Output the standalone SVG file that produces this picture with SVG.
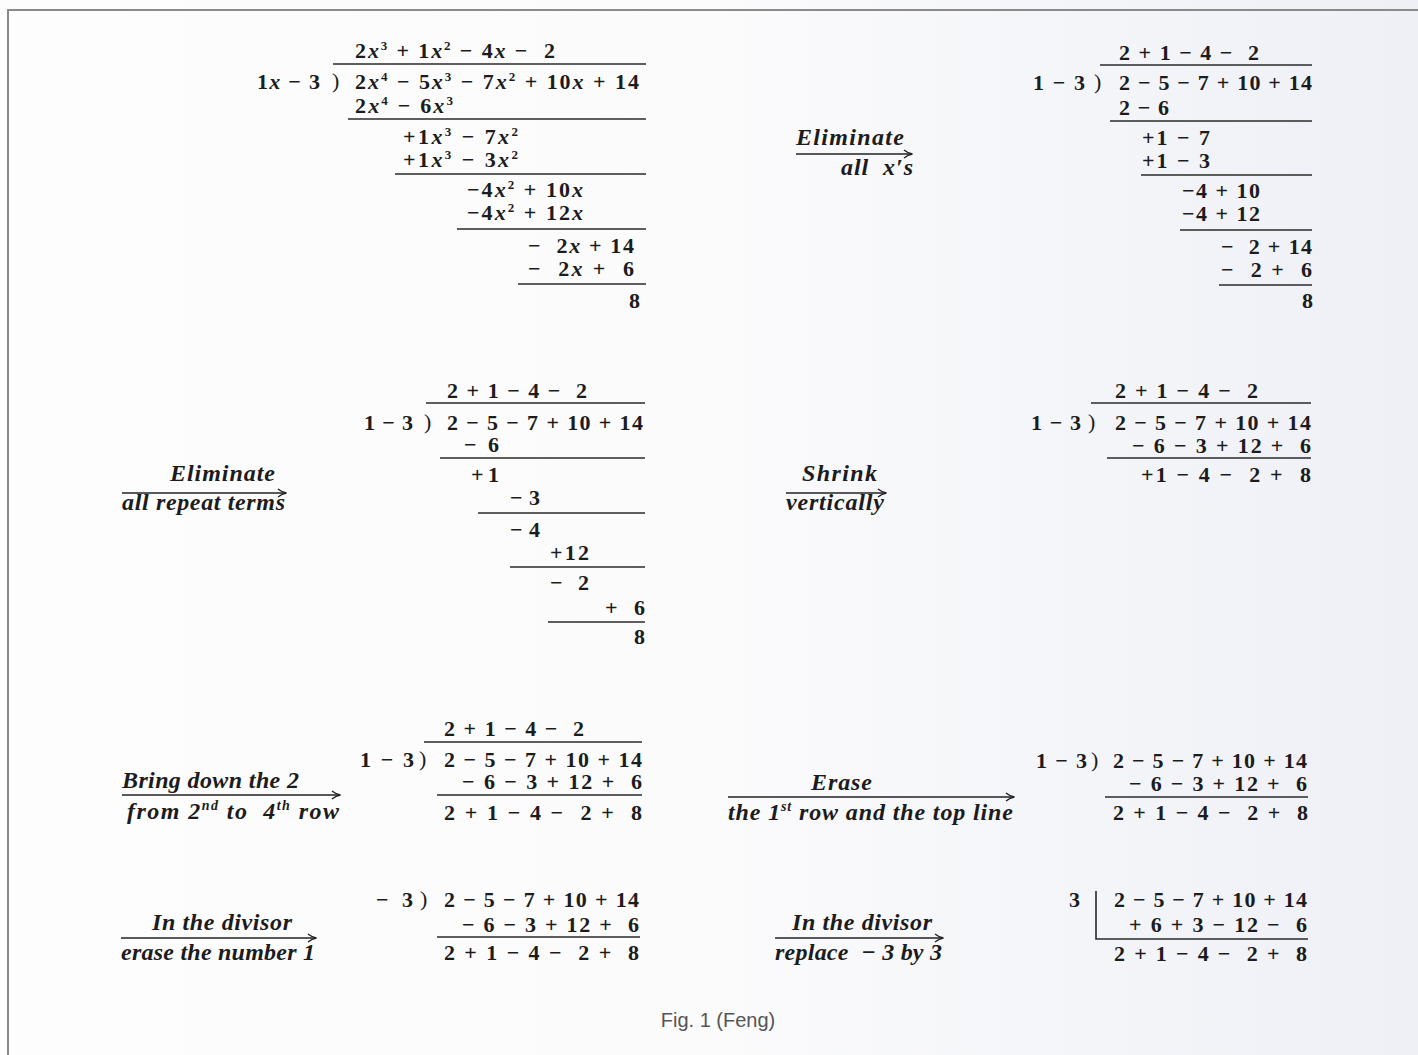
<svg xmlns="http://www.w3.org/2000/svg" width="1418" height="1055" viewBox="0 0 1418 1055" xml:space="preserve">
<defs>
<linearGradient id="bg" x1="0" y1="0" x2="1" y2="0">
<stop offset="0" stop-color="#fdfdfd"/>
<stop offset="0.5" stop-color="#fbfbfc"/>
<stop offset="1" stop-color="#eef0f6"/>
</linearGradient>
<marker id="arr" viewBox="0 0 12 12" refX="10" refY="6" markerWidth="12" markerHeight="12" markerUnits="userSpaceOnUse" orient="auto">
<path d="M2,2 Q6,5.3 10.5,6 Q6,6.7 2,10" fill="none" stroke="#222" stroke-width="1.4"/>
</marker>
<style>
.m{font-family:"Liberation Serif","Times New Roman",serif;font-size:22px;font-weight:bold;fill:#1c1c1c;white-space:pre}
.v{font-style:italic}
.s{font-size:13px}
.lb{font-family:"Liberation Serif","Times New Roman",serif;font-style:italic;font-weight:bold;font-size:24px;fill:#1c1c1c;white-space:pre}
.ls{font-size:14px}
.p{font-family:"Liberation Serif","Times New Roman",serif;font-size:22px;fill:#1c1c1c}
.r{stroke:#2a2a2a;stroke-width:1.6;fill:none}
.ar{stroke:#222;stroke-width:1.4;fill:none;marker-end:url(#arr)}
.cap{font-family:"Liberation Sans",Arial,sans-serif;font-size:20px;fill:#555}
</style>
</defs>
<rect width="1418" height="1055" fill="url(#bg)"/>
<path d="M8,1055 V10 H1418" fill="none" stroke="#8a8a8a" stroke-width="2"/>

<g id="step1">
<text class="m" x="355" y="58" textLength="200">2<tspan class="v">x</tspan><tspan class="s" dy="-8">3</tspan><tspan dy="8"> + 1</tspan><tspan class="v">x</tspan><tspan class="s" dy="-8">2</tspan><tspan dy="8"> − 4</tspan><tspan class="v">x</tspan> −  2</text>
<line class="r" x1="333" y1="64" x2="646" y2="64"/>
<text class="m" x="257" y="89" textLength="63">1<tspan class="v">x</tspan> − 3</text>
<text class="p" x="332" y="88">)</text>
<text class="m" x="355" y="89" textLength="284">2<tspan class="v">x</tspan><tspan class="s" dy="-8">4</tspan><tspan dy="8"> − 5</tspan><tspan class="v">x</tspan><tspan class="s" dy="-8">3</tspan><tspan dy="8"> − 7</tspan><tspan class="v">x</tspan><tspan class="s" dy="-8">2</tspan><tspan dy="8"> + 10</tspan><tspan class="v">x</tspan> + 14</text>
<text class="m" x="355" y="113" textLength="98">2<tspan class="v">x</tspan><tspan class="s" dy="-8">4</tspan><tspan dy="8"> − 6</tspan><tspan class="v">x</tspan><tspan class="s" dy="-8">3</tspan></text>
<line class="r" x1="348" y1="119" x2="646" y2="119"/>
<text class="m" x="403" y="144" textLength="115">+1<tspan class="v">x</tspan><tspan class="s" dy="-8">3</tspan><tspan dy="8"> − 7</tspan><tspan class="v">x</tspan><tspan class="s" dy="-8">2</tspan></text>
<text class="m" x="403" y="167" textLength="115">+1<tspan class="v">x</tspan><tspan class="s" dy="-8">3</tspan><tspan dy="8"> − 3</tspan><tspan class="v">x</tspan><tspan class="s" dy="-8">2</tspan></text>
<line class="r" x1="395" y1="174" x2="646" y2="174"/>
<text class="m" x="467" y="197" textLength="116">−4<tspan class="v">x</tspan><tspan class="s" dy="-8">2</tspan><tspan dy="8"> + 10</tspan><tspan class="v">x</tspan></text>
<text class="m" x="467" y="220" textLength="116">−4<tspan class="v">x</tspan><tspan class="s" dy="-8">2</tspan><tspan dy="8"> + 12</tspan><tspan class="v">x</tspan></text>
<line class="r" x1="457" y1="229" x2="646" y2="229"/>
<text class="m" x="528" y="253" textLength="106">−  2<tspan class="v">x</tspan> + 14</text>
<text class="m" x="528" y="276" textLength="106">−  2<tspan class="v">x</tspan> +  6</text>
<line class="r" x1="518" y1="284" x2="646" y2="284"/>
<text class="m" x="640" y="308" text-anchor="end">8</text>
</g>

<g id="step2">
<text class="m" x="1033" y="90" textLength="52">1 − 3</text>
<text class="p" x="1094" y="89">)</text>
<line class="r" x1="1100" y1="65" x2="1312" y2="65"/>
<text class="m" x="1119" y="60" textLength="140">2 + 1 − 4 −  2</text>
<text class="m" x="1119" y="90" textLength="193">2 − 5 − 7 + 10 + 14</text>
<text class="m" x="1119" y="115" textLength="50">2 − 6</text>
<line class="r" x1="1110" y1="121" x2="1312" y2="121"/>
<text class="m" x="1142" y="145" textLength="68">+1 − 7</text>
<text class="m" x="1142" y="168" textLength="68">+1 − 3</text>
<line class="r" x1="1141" y1="175" x2="1312" y2="175"/>
<text class="m" x="1182" y="198" textLength="78">−4 + 10</text>
<text class="m" x="1182" y="221" textLength="78">−4 + 12</text>
<line class="r" x1="1180" y1="230" x2="1312" y2="230"/>
<text class="m" x="1221" y="254" textLength="91">−  2 + 14</text>
<text class="m" x="1221" y="277" textLength="91">−  2 +  6</text>
<line class="r" x1="1219" y1="285" x2="1312" y2="285"/>
<text class="m" x="1313" y="308" text-anchor="end">8</text>
</g>

<g id="step3">
<text class="m" x="364" y="430" textLength="49">1 − 3</text>
<text class="p" x="424" y="429">)</text>
<line class="r" x1="426" y1="403" x2="645" y2="403"/>
<text class="m" x="447" y="398" textLength="140">2 + 1 − 4 −  2</text>
<text class="m" x="447" y="430" textLength="196">2 − 5 − 7 + 10 + 14</text>
<text class="m" x="464" y="452" textLength="35">− 6</text>
<line class="r" x1="440" y1="458" x2="645" y2="458"/>
<text class="m" x="471" y="482" textLength="28">+1</text>
<text class="m" x="510" y="505" textLength="30">−3</text>
<line class="r" x1="478" y1="513" x2="645" y2="513"/>
<text class="m" x="510" y="537" textLength="30">−4</text>
<text class="m" x="550" y="560" textLength="39">+12</text>
<line class="r" x1="510" y1="567" x2="645" y2="567"/>
<text class="m" x="550" y="590" textLength="39">−  2</text>
<text class="m" x="605" y="615" textLength="40">+  6</text>
<line class="r" x1="548" y1="622" x2="645" y2="622"/>
<text class="m" x="645" y="644" text-anchor="end">8</text>
</g>

<g id="step4">
<text class="m" x="1031" y="430" textLength="50">1 − 3</text>
<text class="p" x="1088" y="429">)</text>
<line class="r" x1="1091" y1="403" x2="1311" y2="403"/>
<text class="m" x="1115" y="398" textLength="143">2 + 1 − 4 −  2</text>
<text class="m" x="1115" y="430" textLength="196">2 − 5 − 7 + 10 + 14</text>
<text class="m" x="1132" y="453" textLength="179">− 6 − 3 + 12 +  6</text>
<line class="r" x1="1107" y1="458" x2="1311" y2="458"/>
<text class="m" x="1141" y="482" textLength="170">+1 − 4 −  2 +  8</text>
</g>

<g id="step5">
<text class="m" x="444" y="736" textLength="140">2 + 1 − 4 −  2</text>
<line class="r" x1="424" y1="742" x2="642" y2="742"/>
<text class="m" x="360" y="767" textLength="54">1 − 3</text>
<text class="p" x="419" y="766">)</text>
<text class="m" x="444" y="767" textLength="198">2 − 5 − 7 + 10 + 14</text>
<text class="m" x="462" y="789" textLength="180">− 6 − 3 + 12 +  6</text>
<line class="r" x1="437" y1="795" x2="642" y2="795"/>
<text class="m" x="444" y="820" textLength="198">2 + 1 − 4 −  2 +  8</text>
</g>

<g id="step6">
<text class="m" x="1036" y="768" textLength="51">1 − 3</text>
<text class="p" x="1091" y="767">)</text>
<text class="m" x="1113" y="768" textLength="194">2 − 5 − 7 + 10 + 14</text>
<text class="m" x="1129" y="791" textLength="178">− 6 − 3 + 12 +  6</text>
<line class="r" x1="1105" y1="797" x2="1308" y2="797"/>
<text class="m" x="1113" y="820" textLength="195">2 + 1 − 4 −  2 +  8</text>
</g>

<g id="step7">
<text class="m" x="376" y="907" textLength="37">− 3</text>
<text class="p" x="420" y="906">)</text>
<text class="m" x="444" y="907" textLength="195">2 − 5 − 7 + 10 + 14</text>
<text class="m" x="462" y="932" textLength="177">− 6 − 3 + 12 +  6</text>
<line class="r" x1="437" y1="937" x2="640" y2="937"/>
<text class="m" x="444" y="960" textLength="195">2 + 1 − 4 −  2 +  8</text>
</g>

<g id="step8">
<text class="m" x="1069" y="907">3</text>
<path class="r" d="M1096,891 V939 H1308"/>
<text class="m" x="1114" y="907" textLength="193">2 − 5 − 7 + 10 + 14</text>
<text class="m" x="1129" y="932" textLength="178">+ 6 + 3 − 12 −  6</text>
<text class="m" x="1114" y="961" textLength="193">2 + 1 − 4 −  2 +  8</text>
</g>

<g id="connectors">
<g id="t1">
<text class="lb" x="796" y="145" textLength="108">Eliminate</text>
<line class="ar" x1="796" y1="154" x2="912" y2="154"/>
<text class="lb" x="841" y="175" textLength="72">all  x′s</text>
</g>
<g id="t2">
<text class="lb" x="170" y="481" textLength="105">Eliminate</text>
<line class="ar" x1="122" y1="493" x2="286" y2="493"/>
<text class="lb" x="122" y="510" textLength="163">all repeat terms</text>
</g>
<g id="t3">
<text class="lb" x="802" y="481" textLength="75">Shrink</text>
<line class="ar" x1="786" y1="493" x2="886" y2="493"/>
<text class="lb" x="786" y="510" textLength="98">vertically</text>
</g>
<g id="t4">
<text class="lb" x="122" y="788" textLength="177">Bring down the 2</text>
<line class="ar" x1="122" y1="795" x2="340" y2="795"/>
<text class="lb" x="127" y="819" textLength="212">from 2<tspan class="ls" dy="-9">nd</tspan><tspan dy="9"> to  4</tspan><tspan class="ls" dy="-9">th</tspan><tspan dy="9"> row</tspan></text>
</g>
<g id="t5">
<text class="lb" x="811" y="790" textLength="61">Erase</text>
<line class="ar" x1="728" y1="797" x2="1014" y2="797"/>
<text class="lb" x="728" y="820" textLength="285">the 1<tspan class="ls" dy="-9">st</tspan><tspan dy="9"> row and the top line</tspan></text>
</g>
<g id="t6">
<text class="lb" x="152" y="930" textLength="140">In the divisor</text>
<line class="ar" x1="121" y1="938" x2="316" y2="938"/>
<text class="lb" x="121" y="960" textLength="194">erase the number 1</text>
</g>
<g id="t7">
<text class="lb" x="792" y="930" textLength="140">In the divisor</text>
<line class="ar" x1="775" y1="938" x2="943" y2="938"/>
<text class="lb" x="775" y="960" textLength="167">replace  − 3 by 3</text>
</g>
</g>

<text class="cap" x="718" y="1027" text-anchor="middle">Fig. 1 (Feng)</text>
</svg>
